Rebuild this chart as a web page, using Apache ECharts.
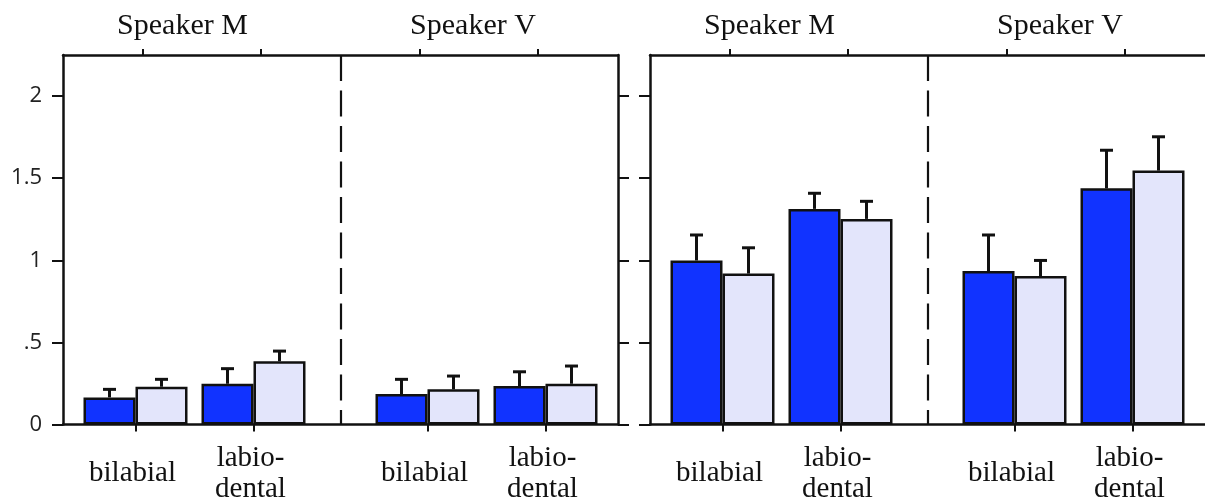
<!DOCTYPE html>
<html><head><meta charset="utf-8">
<script src="https://cdn.jsdelivr.net/npm/echarts@6/dist/echarts.min.js"></script>
<style>html,body{margin:0;padding:0;background:#fff}#c{width:1205px;height:500px}</style>
</head><body><div id="c"></div>
<script>
// ---------- data ----------
const categories = ['bilabial', 'labio-\ndental'];
const speakers = ['Speaker M', 'Speaker V'];
const yTickValues = [0, 0.5, 1, 1.5, 2];
const yTickLabels = ['0', '.5', '1', '1.5', '2'];

// left panel
const leftM_dark = [0.165, 0.248];
const leftM_darkErr = [0.049, 0.092];
const leftM_light = [0.230, 0.385];
const leftM_lightErr = [0.045, 0.062];
const leftV_dark = [0.185, 0.234];
const leftV_darkErr = [0.090, 0.087];
const leftV_light = [0.214, 0.248];
const leftV_lightErr = [0.081, 0.108];
// right panel
const rightM_dark = [0.999, 1.313];
const rightM_darkErr = [0.155, 0.095];
const rightM_light = [0.919, 1.252];
const rightM_lightErr = [0.157, 0.107];
const rightV_dark = [0.934, 1.438];
const rightV_darkErr = [0.220, 0.232];
const rightV_light = [0.904, 1.546];
const rightV_lightErr = [0.095, 0.206];

// ---------- layout / style ----------
const INK = '#111';
const DARK = '#1133ff';
const LIGHT = '#e3e5fb';
const PANEL_LEFT = [63, 650];
const PANEL_W = 555, TOP = 55, H = 369.5;
const SLOT = 118, BAR_W = 52;
const BAR_OFF = [13.5, 305.5];
const TOPTICK_OFF = [21, 298];
const TITLE_X = [119.5, 410];
const Y_MAX = 2.25;
const SERIF = '"Liberation Serif", "Times New Roman", serif';
const SANS = '"Open Sans", "DejaVu Sans", sans-serif';

const panels = [
  [
    {dark: leftM_dark, darkErr: leftM_darkErr, light: leftM_light, lightErr: leftM_lightErr},
    {dark: leftV_dark, darkErr: leftV_darkErr, light: leftV_light, lightErr: leftV_lightErr}
  ],
  [
    {dark: rightM_dark, darkErr: rightM_darkErr, light: rightM_light, lightErr: rightM_lightErr},
    {dark: rightV_dark, darkErr: rightV_darkErr, light: rightV_light, lightErr: rightV_lightErr}
  ]
];

const grid = [], xAxis = [], yAxis = [], series = [], graphic = [];

function mkGrid(left, width) {
  return {left: left, top: TOP, width: width, height: H,
    containLabel: false, outerBoundsMode: 'none'};
}

function errRender(params, api) {
  const i = api.value(0);
  const base = api.coord([i, api.value(1)]);
  const top = api.coord([i, api.value(2)]);
  const x = base[0] + api.value(3) * BAR_W / 2;
  const st = {stroke: INK, lineWidth: 3, fill: null};
  return {type: 'group', children: [
    {type: 'line', shape: {x1: x, y1: base[1], x2: x, y2: top[1]}, style: st},
    {type: 'line', shape: {x1: x - 6.5, y1: top[1], x2: x + 6.5, y2: top[1]}, style: st}
  ]};
}

panels.forEach((panel, p) => {
  const L = PANEL_LEFT[p];
  // frame grid
  const gi = grid.length;
  grid.push(mkGrid(L, PANEL_W));
  xAxis.push({
    gridIndex: gi, type: 'category', data: speakers, position: 'bottom',
    axisLine: {show: true, onZero: false, lineStyle: {color: INK, width: 2.5}},
    axisTick: {show: false}, axisLabel: {show: false},
    splitLine: {show: true, showMinLine: false, showMaxLine: false,
      lineStyle: {color: INK, width: 2.2, type: [26, 9.5]}}
  });
  xAxis.push({
    gridIndex: gi, type: 'category', data: speakers, position: 'top',
    axisLine: {show: true, onZero: false, lineStyle: {color: INK, width: 2.5}},
    axisTick: {show: false}, axisLabel: {show: false}, splitLine: {show: false}
  });
  ['left', 'right'].forEach((pos, k) => {
    yAxis.push({
      gridIndex: gi, type: 'value', min: 0, max: Y_MAX, position: pos,
      axisLine: {show: !(p === 1 && k === 1), onZero: false, lineStyle: {color: INK, width: 2.5}},
      axisTick: {show: true, inside: false, length: 11, customValues: yTickValues,
        lineStyle: {color: INK, width: 2}},
      axisLabel: {show: p === 0 && k === 0, customValues: yTickValues,
        formatter: v => yTickLabels[yTickValues.indexOf(v)],
        margin: 21, fontFamily: SANS, fontSize: 22, color: '#222', padding: [5, 0, 0, 0]},
      splitLine: {show: false}
    });
  });

  panel.forEach((sp, s) => {
    // bars grid
    const bg = grid.length;
    grid.push(mkGrid(L + BAR_OFF[s], 2 * SLOT));
    const xi = xAxis.length;
    xAxis.push({
      gridIndex: bg, type: 'category', data: categories, position: 'bottom',
      axisLine: {show: false, onZero: false},
      axisTick: {show: true, alignWithLabel: true, inside: false, length: 7,
        lineStyle: {color: INK, width: 2}},
      axisLabel: {fontFamily: SERIF, fontSize: 29, color: INK, lineHeight: 31,
        verticalAlign: 'middle', margin: 49, padding: [0, 6, 0, 0], interval: 0}
    });
    const yi = yAxis.length;
    yAxis.push({gridIndex: bg, type: 'value', min: 0, max: Y_MAX, show: false});

    series.push({
      type: 'bar', xAxisIndex: xi, yAxisIndex: yi, data: sp.dark,
      barWidth: BAR_W, barGap: '0%', z: 2,
      itemStyle: {color: DARK, borderColor: INK, borderWidth: 2.5}
    });
    series.push({
      type: 'bar', xAxisIndex: xi, yAxisIndex: yi, data: sp.light,
      barWidth: BAR_W, barGap: '0%', z: 2,
      itemStyle: {color: LIGHT, borderColor: INK, borderWidth: 2.5}
    });
    const errData = [];
    categories.forEach((c, i) => {
      errData.push([i, sp.dark[i], sp.dark[i] + sp.darkErr[i], -1]);
      errData.push([i, sp.light[i], sp.light[i] + sp.lightErr[i], 1]);
    });
    series.push({
      type: 'custom', xAxisIndex: xi, yAxisIndex: yi, z: 3,
      renderItem: errRender, data: errData, silent: true
    });

    // top tick grid
    const tg = grid.length;
    grid.push(mkGrid(L + TOPTICK_OFF[s], 2 * SLOT));
    xAxis.push({
      gridIndex: tg, type: 'category', data: categories, position: 'top',
      axisLine: {show: false, onZero: false},
      axisTick: {show: true, alignWithLabel: true, inside: false, length: 6,
        lineStyle: {color: INK, width: 2}},
      axisLabel: {show: false}
    });
    yAxis.push({gridIndex: tg, type: 'value', min: 0, max: Y_MAX, show: false});

    graphic.push({
      type: 'text', x: L + TITLE_X[s], y: 26,
      style: {text: speakers[s], fontFamily: SERIF, fontSize: 30, fill: INK,
        align: 'center', verticalAlign: 'middle'}
    });
  });
});

const chart = echarts.init(document.getElementById('c'), null, {renderer: 'canvas'});
chart.setOption({
  animation: false,
  backgroundColor: '#fff',
  grid, xAxis, yAxis, series, graphic
});
</script>
</body></html>
